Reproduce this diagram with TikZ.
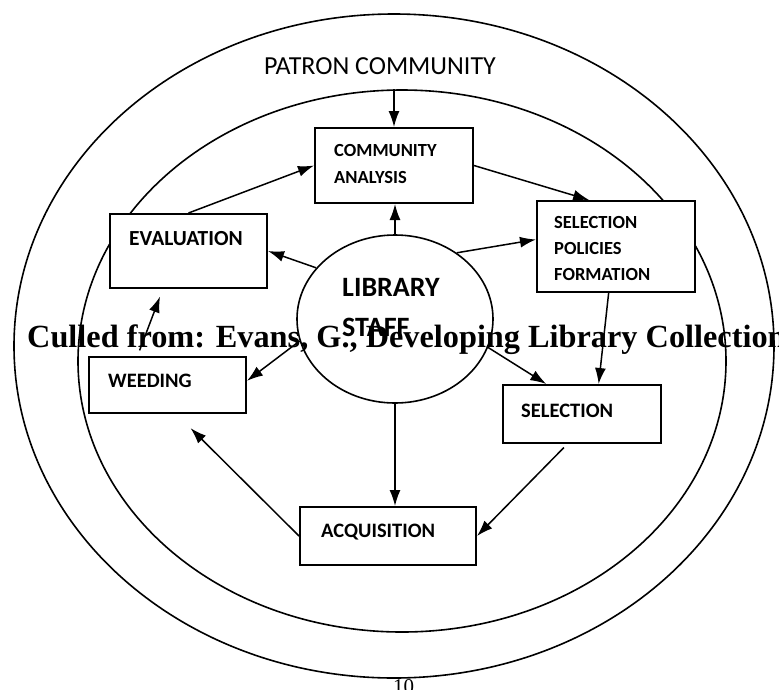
\documentclass[tikz,border=0pt]{standalone}
\usepackage{fontspec}
\setmainfont{Liberation Serif}
\newfontfamily\carlito{Carlito}
\usetikzlibrary{shapes.geometric,arrows.meta}
\begin{document}
\begin{tikzpicture}[x=1pt,y=-1pt,
  ring/.style={draw,ellipse,line width=1.6pt,inner sep=0pt},
  box/.style={draw,fill=white,line width=2pt,inner sep=0pt,anchor=north west},
  txt/.style={anchor=north west,inner sep=0pt,align=left,font=\carlito\bfseries\fontsize{20.5}{26}\selectfont},
  arr/.style={line width=1.5pt,-{Latex[length=16pt,width=11pt]}}]
 \useasboundingbox (0,0) rectangle (779,689);
 \clip (0,0) rectangle (779,689);
 \node[ring,minimum width=760pt,minimum height=664pt] (outer) at (394,346) {};
 \node[ring,minimum width=648pt,minimum height=542pt] (inner) at (402,361) {};
 \node[ring,fill=white,minimum width=196pt,minimum height=168pt] (staff) at (395,319) {};
 \node[box,minimum width=158pt,minimum height=75pt] (ca) at (314,127) {};
 \node[box,minimum width=157pt,minimum height=74pt] (eval) at (109,213) {};
 \node[box,minimum width=158pt,minimum height=91pt] (spf) at (536,200) {};
 \node[box,minimum width=157pt,minimum height=56pt] (weed) at (88,356) {};
 \node[box,minimum width=158pt,minimum height=58pt] (sel) at (502,384) {};
 \node[box,minimum width=176pt,minimum height=58pt] (acq) at (299,506) {};
 \node[anchor=north west,inner sep=0pt,font=\carlito\fontsize{26}{30}\selectfont] (patron) at (264,57) {PATRON COMMUNITY};
 \node[txt,font=\carlito\bfseries\fontsize{18.5}{27}\selectfont] (catxt) at (334,144) {COMMUNITY\\ANALYSIS};
 \node[txt,font=\carlito\bfseries\fontsize{21.5}{26}\selectfont] (evaltxt) at (129,231) {EVALUATION};
 \node[txt,font=\carlito\bfseries\fontsize{18.5}{26}\selectfont] (spftxt) at (554,216) {SELECTION\\POLICIES\\FORMATION};
 \node[txt,font=\carlito\bfseries\fontsize{28}{40}\selectfont] (stafftxt) at (342,278.5) {LIBRARY\\STAFF};
 \node[txt] (weedtxt) at (108,373.5) {WEEDING};
 \node[txt] (seltxt) at (521,403.5) {SELECTION};
 \node[txt] (acqtxt) at (321,523.5) {ACQUISITION};
 \draw[arr] (ca.north |- inner.north) -- (ca.north);
 \draw[arr] (staff.north) -- (staff.north |- ca.south);
 \draw[arr] (ca.east) -- (spf.120);
 \draw[arr] (eval.north) -- (ca.west);
 \draw[arr] (staff.147) -- (eval.east);
 \draw[arr] (staff.47) -- (spf.175);
 \draw[arr] (spf.261) -- (sel.61);
 \draw[arr] (staff.343) -- (sel.140);
 \draw[arr] (staff.193) -- (weed.3);
 \draw[arr,shorten <=6pt,shorten >=8pt] (weed.136) -- (eval.236);
 \draw[arr,shorten >=20pt] (acq.west) -- (weed.287);
 \draw[arr,shorten <=5pt] (sel.244) -- (acq.east);
 \draw[arr] (staff.south) -- (staff.south |- acq.north);
 \node[anchor=base west,inner sep=0pt,font=\bfseries\fontsize{32.3}{36}\selectfont] (src) at (27,347) {Culled from: Evans, G., Developing Library Collection};
 \node[anchor=north west,inner sep=0pt,font=\fontsize{21}{24}\selectfont] (pageno) at (393,679) {10};
\end{tikzpicture}
\end{document}
